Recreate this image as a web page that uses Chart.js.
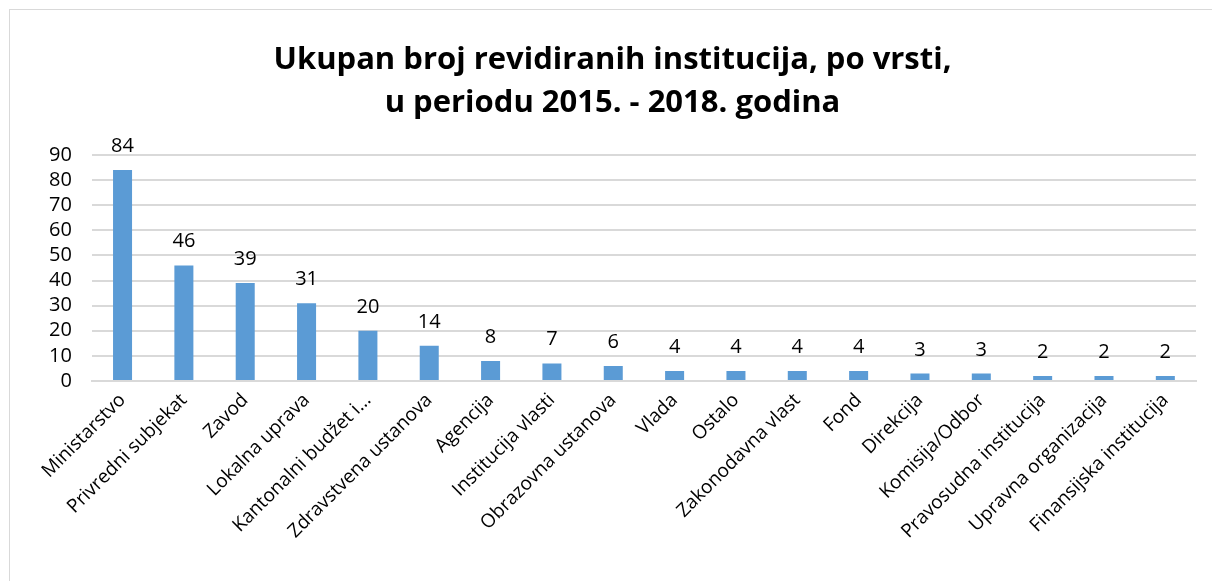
<!DOCTYPE html>
<html>
<head>
<meta charset="utf-8">
<script src="https://cdn.jsdelivr.net/npm/chart.js@4.4.1/dist/chart.umd.min.js"></script>
<style>
html,body{margin:0;padding:0;background:#fff;}
#wrap{position:relative;width:1212px;height:581px;}
#frame{position:absolute;left:9px;top:9px;width:1220px;height:600px;border:1px solid #d9d9d9;box-sizing:border-box;}
canvas{position:absolute;left:0;top:0;}
</style>
</head>
<body>
<div id="wrap"><div id="frame"></div><canvas id="c" width="1212" height="581"></canvas></div>
<script>
const titleLines = ["Ukupan broj revidiranih institucija, po vrsti,", "u periodu 2015. - 2018. godina"];
const categories = ["Ministarstvo","Privredni subjekat","Zavod","Lokalna uprava","Kantonalni budžet i...","Zdravstvena ustanova","Agencija","Institucija vlasti","Obrazovna ustanova","Vlada","Ostalo","Zakonodavna vlast","Fond","Direkcija","Komisija/Odbor","Pravosudna institucija","Upravna organizacija","Finansijska institucija"];
const values = [84,46,39,31,20,14,8,7,6,4,4,4,4,3,3,2,2,2];
const yTicks = [0,10,20,30,40,50,60,70,80,90];

const FONT = "'Open Sans', 'Liberation Sans', sans-serif";

const dataLabels = {
  id: 'dataLabels',
  afterDatasetsDraw(chart) {
    const ctx = chart.ctx;
    const meta = chart.getDatasetMeta(0);
    ctx.save();
    ctx.font = "20px " + FONT;
    ctx.fillStyle = "#000";
    ctx.textAlign = "center";
    ctx.textBaseline = "alphabetic";
    meta.data.forEach((bar, i) => {
      ctx.fillText(String(values[i]), bar.x, bar.y - 18);
    });
    ctx.restore();
  }
};

new Chart(document.getElementById('c'), {
  type: 'bar',
  data: {
    labels: categories,
    datasets: [{
      data: values,
      backgroundColor: '#5b9bd5',
      barPercentage: 0.31,
      categoryPercentage: 1.0
    }]
  },
  options: {
    responsive: false,
    animation: false,
    layout: { padding: { left: 29, right: 16, top: 0, bottom: 30 } },
    plugins: {
      legend: { display: false },
      tooltip: { enabled: false },
      title: {
        display: true,
        text: titleLines,
        color: '#000',
        font: { family: FONT, size: 31, weight: 'bold', lineHeight: 1.4 },
        padding: { top: 38, bottom: 30 }
      }
    },
    scales: {
      x: {
        grid: { display: false, drawTicks: false },
        border: { display: true, color: '#d9d9d9', width: 2 },
        ticks: {
          color: '#000',
          font: { family: FONT, size: 19 },
          minRotation: 45, maxRotation: 45,
          autoSkip: false,
          padding: 8
        }
      },
      y: {
        min: 0, max: 90,
        afterBuildTicks(scale) { scale.ticks = yTicks.map(v => ({ value: v })); },
        grid: { color: '#d9d9d9', lineWidth: 2, drawTicks: false },
        border: { display: false },
        ticks: {
          color: '#000',
          font: { family: FONT, size: 20 },
          padding: 20,
          autoSkip: false
        }
      }
    }
  },
  plugins: [dataLabels]
});
</script>
</body>
</html>
